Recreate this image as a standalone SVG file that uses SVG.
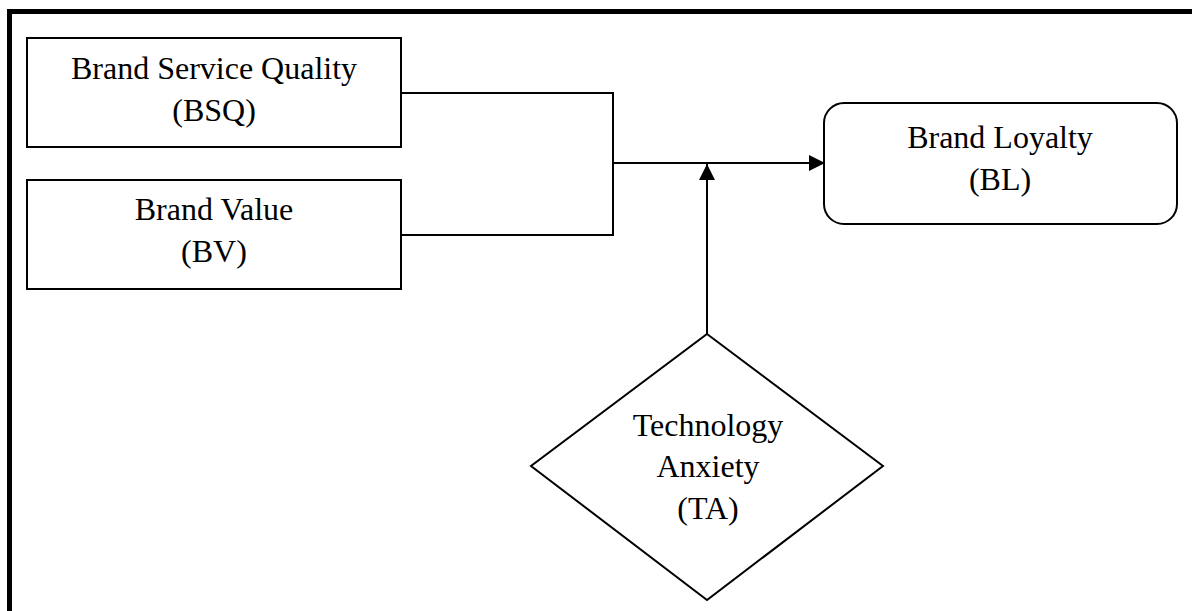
<svg xmlns="http://www.w3.org/2000/svg" width="1192" height="611" viewBox="0 0 1192 611">
<style>
.box{fill:#fff;stroke:#000;stroke-width:2}
.t{font-family:"Liberation Serif","Times New Roman",serif;font-size:32px;fill:#000;text-anchor:middle}
.c{fill:none;stroke:#000;stroke-width:2}
</style>
<defs>
<marker id="ah" markerUnits="userSpaceOnUse" markerWidth="16" markerHeight="16" refX="16" refY="8" orient="auto">
<path d="M0,0 L16,8 L0,16 Z" fill="#000"/>
</marker>
</defs>
<rect x="0" y="0" width="1192" height="611" fill="#fff"/>
<rect x="9.5" y="11.5" width="1200" height="620" fill="none" stroke="#000" stroke-width="5"/>
<g id="connectors">
<polyline class="c" points="401,93 613,93 613,235 401,235"/>
<line class="c" x1="613" y1="163" x2="825" y2="163" stroke-width="2.5" marker-end="url(#ah)"/>
<line class="c" x1="707" y1="334" x2="707" y2="164" marker-end="url(#ah)"/>
</g>
<g id="bsq">
<rect class="box" x="27" y="38" width="374" height="109"/>
<text class="t" x="214" y="79">Brand Service Quality</text>
<text class="t" x="214" y="121">(BSQ)</text>
</g>
<g id="bv">
<rect class="box" x="27" y="180" width="374" height="109"/>
<text class="t" x="214" y="220">Brand Value</text>
<text class="t" x="214" y="262">(BV)</text>
</g>
<g id="bl">
<rect class="box" x="824" y="103" width="353" height="121" rx="20" ry="20"/>
<text class="t" x="1000" y="148">Brand Loyalty</text>
<text class="t" x="1000" y="190">(BL)</text>
</g>
<g id="ta">
<polygon class="box" points="707,334 883,466 707,600 531,466"/>
<text class="t" x="708" y="436">Technology</text>
<text class="t" x="708" y="477">Anxiety</text>
<text class="t" x="708" y="519">(TA)</text>
</g>
</svg>
